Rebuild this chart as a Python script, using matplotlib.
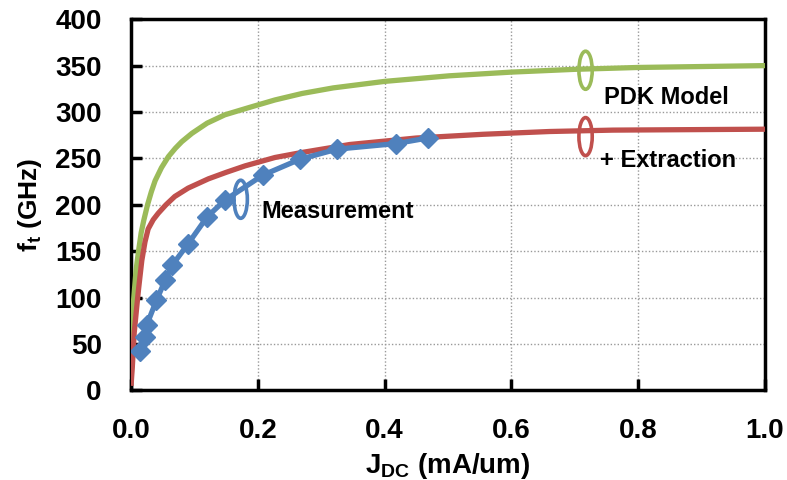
import matplotlib
matplotlib.use("Agg")
import matplotlib.pyplot as plt
from matplotlib.patches import Ellipse

plt.rcParams['font.family'] = ['Liberation Sans', 'DejaVu Sans']
plt.rcParams['font.weight'] = 'bold'
plt.rcParams['mathtext.default'] = 'bf'

# Measured fT vs. DC current density
meas_j = [0.014, 0.022, 0.025, 0.040, 0.054, 0.065, 0.090, 0.120, 0.148,
          0.208, 0.266, 0.325, 0.418, 0.468]
meas_ft = [42, 58, 71, 97, 119, 135, 158, 187, 205, 232, 249, 260, 266, 272]

# PDK model curve
pdk_j = [0.0, 0.002, 0.004, 0.008, 0.012, 0.016, 0.020, 0.026, 0.032, 0.038,
         0.048, 0.059, 0.070, 0.080, 0.096, 0.120, 0.148, 0.187, 0.227, 0.270,
         0.319, 0.400, 0.502, 0.600, 0.700, 0.800, 0.900, 1.0]
pdk_ft = [10, 45, 97, 130, 151, 170, 183, 200, 214, 226, 240, 252, 261, 268,
          277, 288, 297, 305, 313, 320, 326, 333, 339, 343, 346, 348, 349, 350]

# Model after parameter extraction
ext_j = [0.0, 0.002, 0.005, 0.009, 0.012, 0.017, 0.022, 0.027, 0.035, 0.043,
         0.055, 0.069, 0.090, 0.122, 0.150, 0.180, 0.227, 0.266, 0.345, 0.450,
         0.555, 0.660, 0.760, 0.880, 1.0]
ext_ft = [5, 25, 62, 90, 110, 140, 160, 174, 184, 191, 200, 209, 218, 228,
          235, 242, 251, 256, 265, 272, 276, 279, 280.5, 281, 281.5]

x_ticks = [0.0, 0.2, 0.4, 0.6, 0.8, 1.0]
y_ticks = [0, 50, 100, 150, 200, 250, 300, 350, 400]

green = '#9BBB59'
red = '#C0504D'
blue = '#4F81BD'

fig = plt.figure(figsize=(7.87, 4.80), dpi=100)
ax = fig.add_axes([0.1665, 0.1865, 0.8055, 0.7735])

ax.plot(pdk_j, pdk_ft, color=green, lw=3.8, solid_capstyle='butt',
        solid_joinstyle='round', zorder=3)
ax.plot(ext_j, ext_ft, color=red, lw=3.8, solid_capstyle='butt',
        solid_joinstyle='round', zorder=3)
ax.plot(meas_j, meas_ft, color=blue, lw=3.8, marker='D', markersize=10,
        markeredgecolor=blue, zorder=4)

# Series markers (open ellipses around each curve)
for (cx, cy, c) in [(0.173, 206, blue), (0.717, 345, green), (0.717, 273.5, red)]:
    ax.add_patch(Ellipse((cx, cy), 0.021, 41, fill=False, edgecolor=c,
                         lw=2.6, zorder=5))

ax.text(0.206, 193, 'Measurement', fontsize=17, fontweight='bold',
        va='center', ha='left')
ax.text(0.746, 316, 'PDK Model', fontsize=17, fontweight='bold',
        va='center', ha='left')
ax.text(0.740, 248, '+ Extraction', fontsize=17, fontweight='bold',
        va='center', ha='left')

ax.set_xlim(0, 1.0)
ax.set_ylim(0, 400)
ax.set_xticks(x_ticks)
ax.set_yticks(y_ticks)
ax.set_xticklabels([f'{v:.1f}' for v in x_ticks])
ax.set_yticklabels([str(v) for v in y_ticks])
ax.tick_params(axis='both', direction='in', length=8, width=2.5,
               labelsize=20)
ax.tick_params(axis='y', pad=21)
ax.tick_params(axis='x', pad=20)
for lab in ax.get_xticklabels() + ax.get_yticklabels():
    lab.set_fontweight('bold')

ax.grid(True, color='#999999', linestyle=(0, (1, 1.5)), lw=1.0, zorder=0)
ax.set_axisbelow(True)
for sp in ax.spines.values():
    sp.set_linewidth(2.5)
    sp.set_color('black')

ax.set_xlabel(r'J$_{\mathregular{DC}}$ (mA/um)', fontsize=20,
              fontweight='bold', labelpad=5)
ax.set_ylabel(r'f$_{\mathregular{t}}$ (GHz)', fontsize=19,
              fontweight='bold', labelpad=8)

fig.savefig('out.png', dpi=100)
